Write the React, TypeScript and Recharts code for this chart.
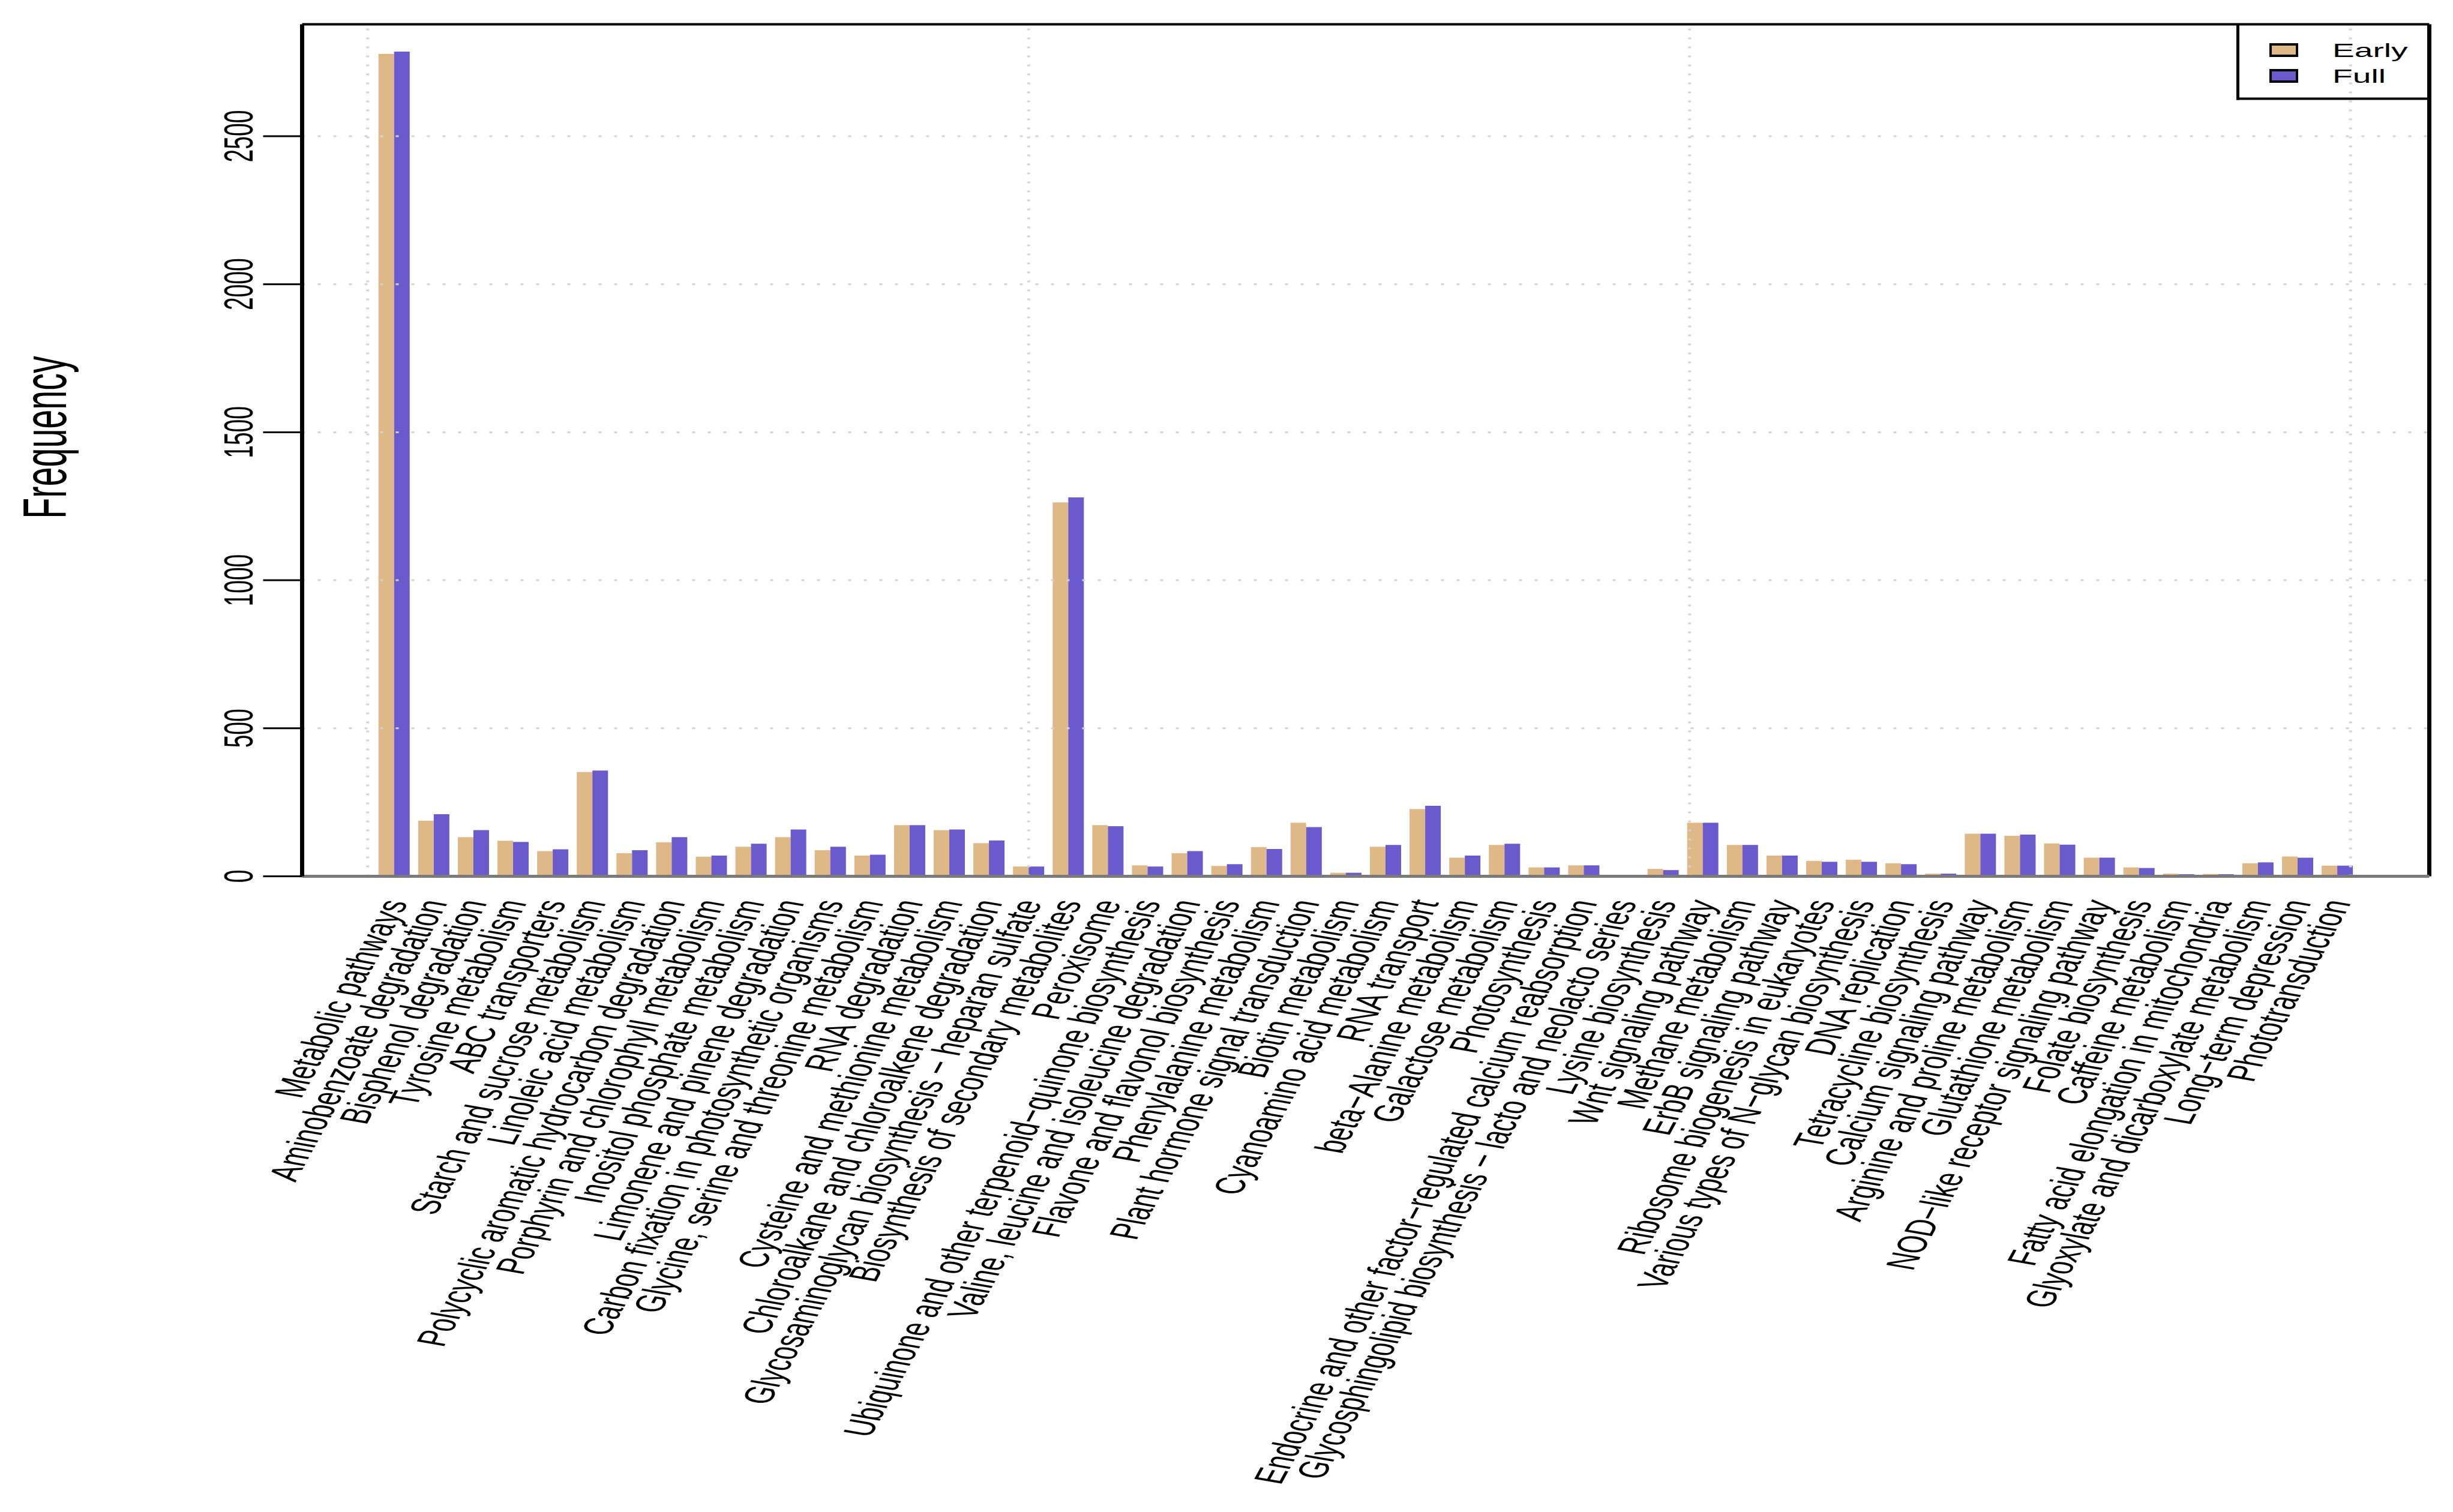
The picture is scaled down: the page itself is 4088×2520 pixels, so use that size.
import React from 'react';
import { BarChart, Bar, XAxis, YAxis, ReferenceLine, Legend } from 'recharts';

// KEGG pathway names, in plot order
const pathways = [
  'Metabolic pathways',
  'Aminobenzoate degradation',
  'Bisphenol degradation',
  'Tyrosine metabolism',
  'ABC transporters',
  'Starch and sucrose metabolism',
  'Linoleic acid metabolism',
  'Polycyclic aromatic hydrocarbon degradation',
  'Porphyrin and chlorophyll metabolism',
  'Inositol phosphate metabolism',
  'Limonene and pinene degradation',
  'Carbon fixation in photosynthetic organisms',
  'Glycine, serine and threonine metabolism',
  'RNA degradation',
  'Cysteine and methionine metabolism',
  'Chloroalkane and chloroalkene degradation',
  'Glycosaminoglycan biosynthesis − heparan sulfate',
  'Biosynthesis of secondary metabolites',
  'Peroxisome',
  'Ubiquinone and other terpenoid−quinone biosynthesis',
  'Valine, leucine and isoleucine degradation',
  'Flavone and flavonol biosynthesis',
  'Phenylalanine metabolism',
  'Plant hormone signal transduction',
  'Biotin metabolism',
  'Cyanoamino acid metabolism',
  'RNA transport',
  'beta−Alanine metabolism',
  'Galactose metabolism',
  'Photosynthesis',
  'Endocrine and other factor−regulated calcium reabsorption',
  'Glycosphingolipid biosynthesis − lacto and neolacto series',
  'Lysine biosynthesis',
  'Wnt signaling pathway',
  'Methane metabolism',
  'ErbB signaling pathway',
  'Ribosome biogenesis in eukaryotes',
  'Various types of N−glycan biosynthesis',
  'DNA replication',
  'Tetracycline biosynthesis',
  'Calcium signaling pathway',
  'Arginine and proline metabolism',
  'Glutathione metabolism',
  'NOD−like receptor signaling pathway',
  'Folate biosynthesis',
  'Caffeine metabolism',
  'Fatty acid elongation in mitochondria',
  'Glyoxylate and dicarboxylate metabolism',
  'Long−term depression',
  'Phototransduction',
];

const early = [
  2778, 188, 132, 120, 85, 352, 78, 115, 66, 100,
  132, 88, 70, 173, 156, 112, 33, 1263, 173, 37,
  78, 35, 99, 181, 12, 100, 227, 63, 106, 30,
  37, 3, 25, 181, 106, 70, 52, 56, 44, 9,
  144, 137, 111, 63, 30, 9, 8, 44, 67, 36,
];

const full = [
  2786, 210, 156, 116, 91, 357, 88, 132, 70, 110,
  158, 100, 73, 173, 158, 121, 33, 1280, 169, 33,
  85, 41, 92, 166, 12, 106, 238, 70, 110, 30,
  37, 3, 21, 181, 106, 70, 49, 49, 41, 9,
  144, 141, 107, 63, 28, 7, 7, 47, 63, 36,
];

const yTicks = [0, 500, 1000, 1500, 2000, 2500];
const yMax = 2878;

// x runs in barplot units: each group takes 3 (two bars and a gap)
const gridX = [0, 50, 100, 150];
const xDomain: [number, number] = [-4.96, 155.96];

const data = pathways.map((name, i) => ({ name, pos: 3 * i + 2, early: early[i], full: full[i] }));
const xTicks = data.map((d) => d.pos);
const nameAt: Record<number, string> = {};
data.forEach((d) => { nameAt[d.pos] = d.name; });

const EARLY_COL = '#DEB887';
const FULL_COL = '#6A5ACD';
const GRID_COL = '#D3D3D3';
const FONT = '"Liberation Sans", Arial, Helvetica, sans-serif';
const STRETCH = 1.78; // the picture is stretched sideways, text included

const XTick = (props: any) => {
  const { x, y, payload } = props;
  return (
    <text
      transform={`translate(${x},${y + 40}) scale(${STRETCH},1) rotate(-73)`}
      textAnchor="end"
      dy="0.35em"
      fontSize={39}
      fontFamily={FONT}
      fill="#000"
    >
      {nameAt[payload.value]}
    </text>
  );
};

const YTick = (props: any) => {
  const { x, y, payload } = props;
  return (
    <text
      transform={`translate(${x},${y}) scale(${STRETCH},1) rotate(-90)`}
      textAnchor="middle"
      fontSize={39}
      fontFamily={FONT}
      fill="#000"
    >
      {payload.value}
    </text>
  );
};

const FreqLabel = () => (
  <text
    transform={`translate(110,729) scale(${STRETCH},1) rotate(-90)`}
    textAnchor="middle"
    fontSize={57.5}
    fontFamily={FONT}
    fill="#000"
  >
    Frequency
  </text>
);

const LegendBox = (props: any) => {
  const items = props.payload || [];
  return (
    <svg width={325} height={128} style={{ display: 'block', overflow: 'visible' }}>
      <rect x={0} y={0} width={5} height={127.5} fill="#000" />
      <rect x={0} y={123.5} width={325} height={4} fill="#000" />
      {items.map((it: any, i: number) => (
        <g key={it.value}>
          <rect x={57} y={35 + i * 43} width={44} height={19} fill={it.color} stroke="#000" strokeWidth={4} />
          <text
            transform={`translate(160,${55.5 + i * 43}) scale(${STRETCH},1)`}
            fontSize={31}
            fontFamily={FONT}
            fill="#000"
          >
            {it.value}
          </text>
        </g>
      ))}
    </svg>
  );
};

export default function App() {
  return (
    <div style={{ position: 'absolute', left: 0, top: 0, width: 4088, height: 2520, background: '#fff' }}>
      <BarChart
        width={4088}
        height={2520}
        data={data}
        barGap={0}
        margin={{ top: 40.5, right: 39.5, bottom: 0, left: 0 }}
      >
        <XAxis
          dataKey="pos"
          type="number"
          domain={xDomain}
          allowDataOverflow
          ticks={xTicks}
          interval={0}
          height={1059.5}
          tick={<XTick />}
          tickLine={false}
          tickSize={0}
          tickMargin={0}
          axisLine={{ stroke: '#7a7a7a', strokeWidth: 5 }}
        />
        <YAxis
          type="number"
          domain={[0, yMax]}
          ticks={yTicks}
          width={503.5}
          tick={<YTick />}
          tickSize={65}
          tickMargin={18}
          tickLine={{ stroke: '#000', strokeWidth: 3 }}
          axisLine={{ stroke: '#000', strokeWidth: 7 }}
          label={<FreqLabel />}
        />
        <Legend
          layout="horizontal"
          verticalAlign="middle"
          align="center"
          content={<LegendBox />}
          wrapperStyle={{ position: 'absolute', left: 3727, top: 38.5, width: 325, height: 128 }}
        />
        <Bar dataKey="early" name="Early" fill={EARLY_COL} barSize={26} isAnimationActive={false} />
        <Bar dataKey="full" name="Full" fill={FULL_COL} barSize={26} isAnimationActive={false} />
        {yTicks.map((v) => (
          <ReferenceLine key={'h' + v} y={v} stroke={GRID_COL} strokeWidth={3} strokeDasharray="5 21" ifOverflow="visible" />
        ))}
        {gridX.map((v) => (
          <ReferenceLine key={'v' + v} x={v} stroke={GRID_COL} strokeWidth={5} strokeDasharray="3 12" ifOverflow="visible" />
        ))}
        <ReferenceLine y={yMax} stroke="#000" strokeWidth={4} ifOverflow="visible" />
        <ReferenceLine x={xDomain[1]} stroke="#000" strokeWidth={7} ifOverflow="visible" />
      </BarChart>
    </div>
  );
}
